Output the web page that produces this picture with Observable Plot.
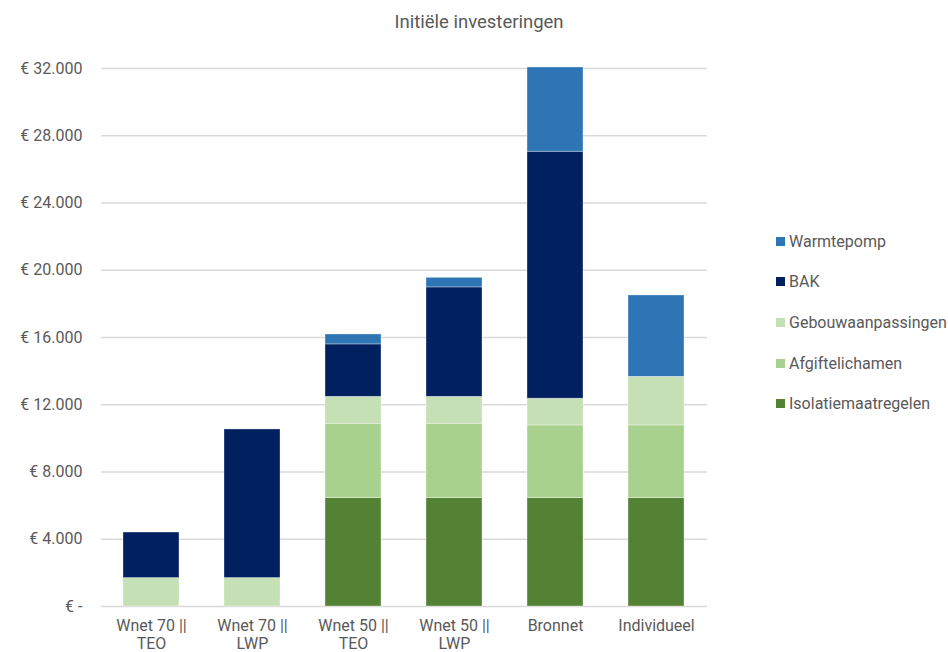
<!DOCTYPE html>
<html>
<head>
<meta charset="utf-8">
<script src="https://cdn.jsdelivr.net/npm/d3@7"></script>
<script src="https://cdn.jsdelivr.net/npm/@observablehq/plot@0.6"></script>
<style>
  html, body { margin: 0; padding: 0; background: #fff; }
  #wrap { position: relative; width: 948px; height: 652px; font-family: Roboto, sans-serif; color: #595959; overflow: hidden; }
  #title { height: 40px; line-height: 44px; text-align: center; font-size: 18.5px; padding-left: 10px; }
  #legend { position: absolute; left: 776px; top: 221px; font-size: 16px; }
  .item { height: 40.6px; display: flex; align-items: center; white-space: nowrap; }
  .item .sw { width: 9px; height: 9px; margin-right: 4px; display: inline-block; }
</style>
</head>
<body>
<div id="wrap">
  <div id="title">Initiële investeringen</div>
  <div id="chart"></div>
  <div id="legend"></div>
</div>
<script>
const categories = ["Wnet 70 || TEO", "Wnet 70 || LWP", "Wnet 50 || TEO", "Wnet 50 || LWP", "Bronnet", "Individueel"];
const series = ["Isolatiemaatregelen", "Afgiftelichamen", "Gebouwaanpassingen", "BAK", "Warmtepomp"];
const colors = ["#548235", "#A9D18E", "#C5E0B4", "#002060", "#2E75B6"];
const isolatiemaatregelen = [0, 0, 6450, 6450, 6450, 6450];
const afgiftelichamen   = [0, 0, 4420, 4420, 4320, 4320];
const gebouwaanpassingen = [1690, 1690, 1600, 1600, 1590, 2890];
const bak               = [2710, 8840, 3120, 6510, 14690, 0];
const warmtepomp        = [0, 0, 590, 570, 5010, 4840];
const yTicks = [0, 4000, 8000, 12000, 16000, 20000, 24000, 28000, 32000];

const valuesBySeries = [isolatiemaatregelen, afgiftelichamen, gebouwaanpassingen, bak, warmtepomp];
const data = [];
series.forEach((s, si) => {
  categories.forEach((c, ci) => {
    data.push({ category: c, series: s, value: valuesBySeries[si][ci] });
  });
});

const fmt = d => d === 0 ? "€ -" : "€ " + d3.format(",")(d).replace(/,/g, ".");

const chart = Plot.plot({
  width: 948,
  height: 612,
  marginTop: 28,
  marginBottom: 46,
  marginLeft: 101,
  marginRight: 241,
  style: { fontFamily: "Roboto, sans-serif", fontSize: "16px", color: "#595959", background: "white", overflow: "visible" },
  x: { domain: categories, paddingInner: 0.445, paddingOuter: 0.21, label: null },
  y: { domain: [0, 32000], label: null },
  color: { domain: series, range: colors },
  marks: [
    Plot.ruleY(yTicks, { stroke: "#d9d9d9", strokeWidth: 1.4 }),
    Plot.barY(data, {
      x: "category", y: "value", fill: "series", order: series,
      stroke: "white", strokeOpacity: 0.45, strokeWidth: 0.75
    }),
    Plot.axisY(yTicks, { tickSize: 0, tickPadding: 19, tickFormat: fmt, fill: "#595959", fontSize: 16, label: null }),
    Plot.axisX({ tickSize: 0, tickPadding: 11, lineHeight: 1.15, fill: "#595959", fontSize: 16,
      tickFormat: d => d.replace("|| ", "||\n"), label: null })
  ]
});
document.getElementById("chart").appendChild(chart);

const legend = document.getElementById("legend");
series.slice().reverse().forEach((s) => {
  const col = colors[series.indexOf(s)];
  const div = document.createElement("div");
  div.className = "item";
  div.innerHTML = `<span class="sw" style="background:${col}"></span><span>${s}</span>`;
  legend.appendChild(div);
});
</script>
</body>
</html>
